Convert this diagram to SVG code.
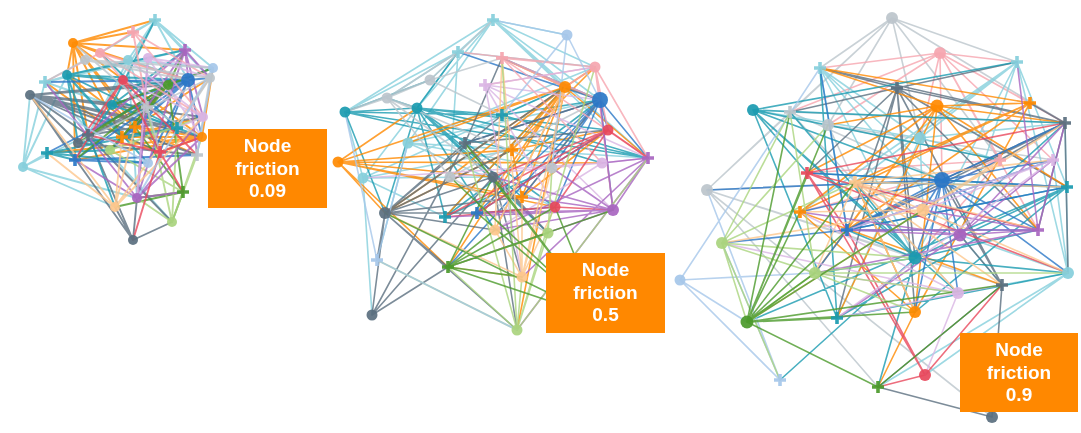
<svg xmlns="http://www.w3.org/2000/svg" xmlns:xlink="http://www.w3.org/1999/xlink" width="1081" height="433" viewBox="0 0 1081 433">
<style>
.T{fill:#1a9bb0;stroke:#1a9bb0}
.LT{fill:#86cfdc;stroke:#86cfdc}
.S{fill:#5b6f7f;stroke:#5b6f7f}
.G{fill:#bcc5cc;stroke:#bcc5cc}
.P{fill:#f6a5af;stroke:#f6a5af}
.R{fill:#e8485c;stroke:#e8485c}
.PU{fill:#a865c0;stroke:#a865c0}
.LP{fill:#dab5e4;stroke:#dab5e4}
.O{fill:#ff8a00;stroke:#ff8a00}
.LO{fill:#fdc78d;stroke:#fdc78d}
.B{fill:#2a77c7;stroke:#2a77c7}
.LB{fill:#a6c7ea;stroke:#a6c7ea}
.GR{fill:#4b9a2b;stroke:#4b9a2b}
.LG{fill:#aad47e;stroke:#aad47e}
circle{stroke-width:0}
path.e{fill:none;stroke-width:1.6;stroke-opacity:.8;stroke-linecap:round}
#g1-edges path.e{stroke-width:1.9}
use{stroke-width:3.6}
.nodes{opacity:.92}
.lbl rect{fill:#ff8800}
.lbl text{fill:#fff;font-family:"Liberation Sans",Arial,sans-serif;font-weight:bold;font-size:19px;text-anchor:middle}
</style>
<defs>
<path id="pl" d="M-6 0H6M0-6V6"/>
</defs>
<rect width="1081" height="433" fill="#fff"/>

<!-- ===== Graph 1 (friction 0.09) ===== -->
<g id="g1-edges">
<path class="e O" d="M73 43L155 20M73 43L133 32M73 43L185 50M73 43L67 75M73 43L135 127M73 43L122 137M73 43L202 137M73 43L160 152M73 43L100 53M73 43L88 135M73 43L75 160M73 43L188 80M202 137L47 153M202 137L75 160M202 137L160 152M202 137L213 68M202 137L122 137M135 127L197 155M135 127L210 78M135 127L202 137M122 137L160 152M122 137L168 85M135 127L67 75M135 127L112 105M122 137L203 117M122 137L45 82"/>
<path class="e LT" d="M155 20L133 32M155 20L185 50M155 20L210 78M155 20L188 80M155 20L213 68M155 20L88 135M155 20L100 53M23 167L30 95M23 167L45 82M23 167L47 153M23 167L115 207M23 167L137 198M23 167L88 135M23 167L67 75M45 82L128 60M45 82L185 50M45 82L177 128M45 82L172 222M128 60L188 80M128 60L155 20M128 60L213 68M128 60L88 135M128 60L137 198M128 60L147 107"/>
<path class="e S" d="M30 95L135 127M30 95L177 128M30 95L202 137M30 95L160 152M30 95L88 135M30 95L78 143M30 95L110 150M30 95L197 155M30 95L75 160M30 95L203 117M30 95L147 107M30 95L188 80M30 95L168 85M30 95L133 240M133 240L115 207M133 240L137 198M133 240L172 222M88 135L203 117M88 135L133 240M88 135L172 222M78 143L188 80M78 143L197 155M88 135L168 85M78 143L147 107"/>
<path class="e T" d="M67 75L185 50M67 75L188 80M67 75L168 85M67 75L78 143M67 75L88 135M67 75L148 163M67 75L115 207M67 75L122 137M67 75L177 128M177 128L47 153M177 128L78 143M47 153L75 160M47 153L148 163M47 153L110 150M112 105L177 128M112 105L213 68M112 105L185 50M112 105L155 20M112 105L202 137M112 105L75 160M177 128L100 53"/>
<path class="e B" d="M188 80L168 85M188 80L112 105M188 80L45 82M188 80L75 160M188 80L110 150M188 80L148 163M188 80L202 137M188 80L160 152M188 80L210 78M188 80L47 153M75 160L148 163M75 160L197 155M188 80L122 137"/>
<path class="e GR" d="M168 85L112 105M168 85L78 143M168 85L75 160M168 85L110 150M168 85L122 137M168 85L135 127M168 85L213 68M168 85L185 50M183 192L135 127M183 192L168 85M183 192L172 222M183 192L137 198M183 192L115 207M168 85L88 135M168 85L147 107"/>
<path class="e LG" d="M172 222L137 198M172 222L197 155M172 222L202 137M172 222L177 128M110 150L203 117M110 150L183 192M172 222L147 107"/>
<path class="e PU" d="M137 198L185 50M137 198L203 117M137 198L148 58M137 198L147 107M137 198L45 82M137 198L75 160M137 198L183 192M137 198L202 137M185 50L210 78M185 50L203 117M185 50L197 155M185 50L147 107M185 50L88 135"/>
<path class="e LO" d="M115 207L135 127M115 207L47 153M115 207L203 117M115 207L210 78M115 207L30 95M115 207L122 137"/>
<path class="e P" d="M100 53L45 82M100 53L133 32M100 53L203 117M100 53L188 80M100 53L123 80M133 32L210 78M133 32L203 117M133 32L147 107"/>
<path class="e LP" d="M203 117L123 80M203 117L128 60M203 117L177 128M148 58L210 78M148 58L202 137M148 58L213 68M148 58L137 198"/>
<path class="e R" d="M123 80L78 143M123 80L75 160M123 80L160 152M123 80L197 155M160 152L183 192M160 152L202 137M160 152L88 135M160 152L133 240"/>
<path class="e G" d="M85 60L188 80M85 60L213 68M85 60L210 78M85 60L45 82M210 78L177 128M210 78L197 155M210 78L78 143M147 107L160 152M147 107L73 43M147 107L202 137"/>
<path class="e LB" d="M213 68L197 155M213 68L137 198M148 163L30 95"/>
</g>
<g id="g1-nodes" class="nodes">
<use href="#pl" x="155" y="20" class="LT"/>
<use href="#pl" x="133" y="32" class="P"/>
<circle cx="73" cy="43" r="5" class="O"/>
<use href="#pl" x="185" y="50" class="PU"/>
<circle cx="100" cy="53" r="5" class="P"/>
<circle cx="85" cy="60" r="5" class="G"/>
<circle cx="128" cy="60" r="5" class="LT"/>
<circle cx="148" cy="58" r="5" class="LP"/>
<circle cx="213" cy="68" r="5" class="LB"/>
<circle cx="67" cy="75" r="5" class="T"/>
<use href="#pl" x="45" y="82" class="LT"/>
<circle cx="210" cy="78" r="5" class="G"/>
<circle cx="123" cy="80" r="5" class="R"/>
<circle cx="168" cy="85" r="5" class="GR"/>
<circle cx="188" cy="80" r="7" class="B"/>
<circle cx="30" cy="95" r="5" class="S"/>
<circle cx="112" cy="105" r="5" class="T"/>
<use href="#pl" x="147" y="107" class="G"/>
<circle cx="203" cy="117" r="5" class="LP"/>
<use href="#pl" x="135" y="127" class="O"/>
<use href="#pl" x="177" y="128" class="T"/>
<circle cx="202" cy="137" r="5" class="O"/>
<use href="#pl" x="122" y="137" class="O"/>
<use href="#pl" x="88" y="135" class="S"/>
<circle cx="78" cy="143" r="5" class="S"/>
<use href="#pl" x="160" y="152" class="R"/>
<use href="#pl" x="47" y="153" class="T"/>
<use href="#pl" x="75" y="160" class="B"/>
<circle cx="110" cy="150" r="5" class="LG"/>
<circle cx="148" cy="163" r="5" class="LB"/>
<use href="#pl" x="197" y="155" class="G"/>
<circle cx="23" cy="167" r="5" class="LT"/>
<use href="#pl" x="183" y="192" class="GR"/>
<circle cx="137" cy="198" r="5" class="PU"/>
<circle cx="115" cy="207" r="5" class="LO"/>
<circle cx="172" cy="222" r="5" class="LG"/>
<circle cx="133" cy="240" r="5" class="S"/>
</g>

<!-- ===== Graph 2 (friction 0.5) ===== -->
<g id="g2-edges">
<path class="e LT" d="M493 20L458 52M493 20L417 108M493 20L408 143M493 20L600 100M493 20L567 35M493 20L595 67M493 20L565 87M493 20L608 130M493 20L648 158M493 20L430 80M493 20L345 112M458 52L345 112M458 52L387 98M458 52L417 108M458 52L595 67M458 52L450 177M408 143L377 260M408 143L600 100M408 143L648 158M408 143L555 207M408 143L552 168M408 143L595 67M363 178L565 87M363 178L512 150M363 178L345 112M363 178L417 108M363 178L445 217M363 178L372 315M363 178L493 177"/>
<path class="e T" d="M417 108L345 112M417 108L502 115M417 108L555 207M417 108L648 158M417 108L495 230M417 108L445 217M417 108L522 197M417 108L385 213M417 108L602 163M417 108L608 130M417 108L493 177M417 108L548 233M417 108L458 52M417 108L387 98M345 112L430 80M345 112L502 115M345 112L512 150M345 112L385 213M345 112L648 158M502 115L648 158M502 115L600 100M502 115L565 87M445 217L600 100M445 217L565 87M445 217L552 168"/>
<path class="e O" d="M338 162L565 87M338 162L417 108M338 162L512 150M338 162L385 213M338 162L448 267M338 162L493 177M338 162L522 197M338 162L555 207M338 162L602 163M565 87L385 213M565 87L450 177M565 87L445 217M565 87L477 213M565 87L595 67M565 87L600 100M565 87L648 158M565 87L512 150M565 87L495 230M565 87L522 197M565 87L517 330M565 87L448 267M565 87L408 143M565 87L502 58M512 150L385 213M512 150L522 197M512 150L595 67M512 150L608 130M522 197L600 100M522 197L608 130"/>
<path class="e B" d="M600 100L648 158M600 100L608 130M600 100L555 207M600 100L477 213M600 100L613 210M600 100L502 58M600 100L458 52M600 100L465 143M600 100L448 267M600 100L522 197M600 100L552 168M477 213L608 130M477 213L600 100M477 213L555 207"/>
<path class="e S" d="M385 213L465 143M385 213L502 115M385 213L493 177M385 213L565 87M385 213L512 150M385 213L517 330M385 213L372 315M385 213L377 260M385 213L477 213M385 213L495 230M385 213L448 267M385 213L522 197M372 315L465 143M372 315L448 267M372 315L493 177M372 315L385 213M465 143L600 100M465 143L608 130M465 143L548 233M465 143L502 58M493 177L548 233M493 177L522 277M493 177L517 330"/>
<path class="e P" d="M595 67L458 52M595 67L502 58M595 67L485 85M595 67L648 158M595 67L608 130M595 67L565 87M595 67L613 210M595 67L600 100M502 58L565 87M502 58L600 100M502 58L602 163M502 58L648 158"/>
<path class="e G" d="M430 80L493 20M430 80L502 58M430 80L345 112M430 80L387 98M430 80L502 115M387 98L345 112M387 98L417 108M387 98L458 52M387 98L552 168M387 98L450 177M387 98L493 177M450 177L600 100M450 177L548 233"/>
<path class="e LP" d="M485 85L600 100M485 85L595 67M485 85L648 158M485 85L613 210M485 85L522 277M485 85L555 207M602 163L363 178M602 163L450 177M602 163L495 230M602 163L648 158"/>
<path class="e R" d="M608 130L445 217M608 130L477 213M608 130L555 207M608 130L493 177M608 130L648 158M555 207L477 213M555 207L445 217M555 207L613 210"/>
<path class="e PU" d="M648 158L613 210M648 158L517 330M648 158L522 277M648 158L495 230M648 158L602 163M613 210L448 267M613 210L445 217M613 210L477 213M613 210L552 168M613 210L493 177M613 210L522 197M613 210L495 230M613 210L600 100"/>
<path class="e LO" d="M495 230L565 87M495 230L502 58M495 230L522 277M522 277L565 87M522 277L522 197M522 277L385 213M522 277L448 267M522 277L555 207M522 277L552 168M522 277L502 58"/>
<path class="e LG" d="M548 233L517 330M548 233L448 267M548 233L552 168M517 330L377 260M517 330L448 267M517 330L522 277M517 330L502 58M517 330L595 67M517 330L648 158M517 330L465 143"/>
<path class="e GR" d="M448 267L548 233M448 267L522 277M448 267L495 230M448 267L493 177M448 267L555 207M448 267L613 210M448 267L600 318M600 318L465 143M600 318L493 177M600 318L477 213M600 318L555 207M600 318L450 177M600 318L385 213"/>
<path class="e LB" d="M377 260L408 143M377 260L517 330M377 260L345 112M567 35L493 20M567 35L600 100M567 35L552 168M567 35L502 115"/>
</g>
<g id="g2-nodes" class="nodes">
<use href="#pl" x="493" y="20" class="LT"/>
<circle cx="567" cy="35" r="5.5" class="LB"/>
<use href="#pl" x="458" y="52" class="LT"/>
<use href="#pl" x="502" y="58" class="P"/>
<circle cx="595" cy="67" r="5.5" class="P"/>
<circle cx="430" cy="80" r="5.5" class="G"/>
<use href="#pl" x="485" y="85" class="LP"/>
<circle cx="565" cy="87" r="6" class="O"/>
<circle cx="387" cy="98" r="5.5" class="G"/>
<circle cx="600" cy="100" r="8" class="B"/>
<circle cx="345" cy="112" r="5.5" class="T"/>
<circle cx="417" cy="108" r="5.5" class="T"/>
<use href="#pl" x="502" y="115" class="T"/>
<circle cx="608" cy="130" r="5.5" class="R"/>
<use href="#pl" x="465" y="143" class="S"/>
<circle cx="408" cy="143" r="5.5" class="LT"/>
<use href="#pl" x="512" y="150" class="O"/>
<use href="#pl" x="648" y="158" class="PU"/>
<circle cx="338" cy="162" r="5.5" class="O"/>
<circle cx="602" cy="163" r="5.5" class="LP"/>
<circle cx="363" cy="178" r="5.5" class="LT"/>
<circle cx="450" cy="177" r="5.5" class="G"/>
<circle cx="493" cy="177" r="5.5" class="S"/>
<circle cx="552" cy="168" r="5.5" class="G"/>
<use href="#pl" x="522" y="197" class="O"/>
<circle cx="555" cy="207" r="5.5" class="R"/>
<circle cx="613" cy="210" r="6" class="PU"/>
<circle cx="385" cy="213" r="6" class="S"/>
<use href="#pl" x="445" y="217" class="T"/>
<use href="#pl" x="477" y="213" class="B"/>
<circle cx="495" cy="230" r="5.5" class="LO"/>
<circle cx="548" cy="233" r="5.5" class="LG"/>
<use href="#pl" x="377" y="260" class="LB"/>
<use href="#pl" x="448" y="267" class="GR"/>
<circle cx="522" cy="277" r="5.5" class="LO"/>
<circle cx="372" cy="315" r="5.5" class="S"/>
<circle cx="517" cy="330" r="5.5" class="LG"/>
</g>

<!-- ===== Graph 3 (friction 0.9) ===== -->
<g id="g3-edges">
<path class="e G" d="M892 18L820 68M892 18L790 112M892 18L828 125M892 18L707 190M892 18L1017 62M892 18L1065 123M892 18L920 138M892 18L1000 160M790 112L707 190M790 112L942 180M790 112L1065 123M790 112L958 293M828 125L1000 160M828 125L915 312M828 125L1053 160M707 190L915 258M707 190L878 387M707 190L942 180M707 190L1002 285M707 190L992 417"/>
<path class="e P" d="M940 53L820 68M940 53L790 112M940 53L1000 160M940 53L1065 123M940 53L1053 160M940 53L1030 103M940 53L1038 230M940 53L942 180M940 53L1017 62M940 53L920 138M1000 160L807 173M1000 160L800 212M1000 160L847 230M1000 160L915 258M940 53L828 125"/>
<path class="e LT" d="M1017 62L1068 273M1017 62L1067 187M1017 62L960 235M1017 62L915 258M1017 62L800 212M1017 62L920 138M1017 62L855 182M820 68L847 230M820 68L942 180M820 68L915 258M820 68L1002 285M820 68L920 138M920 138L753 110M920 138L1000 160M920 138L1065 123M920 138L923 210M920 138L837 318M1068 273L1053 160M1068 273L960 235M1068 273L925 375M1068 273L878 387M1068 273L958 293M1068 273L1065 123"/>
<path class="e S" d="M897 88L1017 62M897 88L1065 123M897 88L915 258M897 88L915 312M897 88L1067 187M897 88L847 230M897 88L1002 285M897 88L807 173M897 88L820 68M897 88L837 318M897 88L790 112M897 88L1038 230M1065 123L1030 103M1065 123L1000 160M1065 123L1038 230M1065 123L942 180M1065 123L847 230M1065 123L1068 273M1065 123L820 68M1002 285L992 417M1002 285L960 235M1002 285L878 387M1002 285L942 180M992 417L878 387"/>
<path class="e O" d="M937 106L1030 103M937 106L807 173M937 106L800 212M937 106L820 68M937 106L1065 123M937 106L847 230M937 106L915 312M937 106L837 318M937 106L1067 187M937 106L828 125M937 106L1038 230M937 106L815 273M1030 103L800 212M1030 103L847 230M1030 103L855 182M1030 103L820 68M1030 103L915 312M800 212L915 312M800 212L1002 285M915 312L878 387M915 312L855 182"/>
<path class="e T" d="M753 110L1017 62M753 110L915 258M753 110L958 293M753 110L942 180M753 110L837 318M753 110L1065 123M753 110L1000 160M753 110L807 173M1067 187L847 230M1067 187L807 173M1067 187L837 318M1067 187L855 182M1067 187L915 312M1067 187L747 322M915 258L878 387M915 258L780 380M915 258L855 182M915 258L1038 230M915 258L1068 273M915 258L847 230M915 258L815 273M915 258L1067 187M915 258L1065 123M915 258L790 112M837 318L753 110M837 318L1068 273M837 318L820 68"/>
<path class="e B" d="M942 180L807 173M942 180L1067 187M942 180L1038 230M942 180L960 235M942 180L915 258M942 180L847 230M942 180L1065 123M942 180L1053 160M942 180L923 210M942 180L915 312M942 180L800 212M942 180L958 293M942 180L707 190M942 180L1068 273M847 230L1053 160M847 230L1000 160M847 230L1067 187M847 230L820 68M847 230L722 243M847 230L815 273M847 230L1038 230"/>
<path class="e LB" d="M680 280L820 68M680 280L780 380M680 280L815 273M680 280L747 322M780 380L707 190M780 380L722 243"/>
<path class="e R" d="M807 173L925 375M807 173L847 230M807 173L1038 230M807 173L1068 273M807 173L1065 123M925 375L878 387M925 375L1002 285M925 375L847 230"/>
<path class="e LO" d="M855 182L1067 187M855 182L923 210M855 182L1038 230M855 182L1002 285M855 182L958 293M855 182L815 273M855 182L960 235M855 182L915 312M855 182L1053 160M923 210L722 243M923 210L800 212M923 210L1065 123M923 210L1000 160M923 210L747 322M923 210L1068 273"/>
<path class="e PU" d="M960 235L1038 230M960 235L847 230M960 235L800 212M960 235L1053 160M960 235L1065 123M960 235L837 318M1038 230L815 273M1038 230L923 210M1038 230L1017 62M1038 230L1065 123M1038 230L847 230"/>
<path class="e LP" d="M1053 160L847 230M1053 160L923 210M1053 160L837 318M958 293L837 318M958 293L1002 285M958 293L800 212M958 293L925 375M958 293L722 243M958 293L815 273"/>
<path class="e LG" d="M722 243L790 112M722 243L828 125M722 243L815 273M722 243L915 258M722 243L747 322M722 243L780 380M722 243L855 182M815 273L747 322M815 273L915 258M815 273L790 112M815 273L958 293M815 273L1068 273M815 273L915 312"/>
<path class="e GR" d="M747 322L790 112M747 322L828 125M747 322L855 182M747 322L800 212M747 322L847 230M747 322L837 318M747 322L1002 285M747 322L915 312M747 322L878 387M747 322L815 273M747 322L923 210M747 322L807 173M878 387L1002 285"/>
</g>
<g id="g3-nodes" class="nodes">
<circle cx="892" cy="18" r="6" class="G"/>
<circle cx="940" cy="53" r="6" class="P"/>
<use href="#pl" x="1017" y="62" class="LT"/>
<use href="#pl" x="820" y="68" class="LT"/>
<use href="#pl" x="897" y="88" class="S"/>
<circle cx="937" cy="106" r="6.5" class="O"/>
<use href="#pl" x="1030" y="103" class="O"/>
<circle cx="753" cy="110" r="6" class="T"/>
<use href="#pl" x="790" y="112" class="G"/>
<use href="#pl" x="1065" y="123" class="S"/>
<circle cx="828" cy="125" r="6" class="G"/>
<circle cx="920" cy="138" r="6" class="LT"/>
<use href="#pl" x="1000" y="160" class="P"/>
<use href="#pl" x="1053" y="160" class="LP"/>
<use href="#pl" x="807" y="173" class="R"/>
<use href="#pl" x="855" y="182" class="LO"/>
<circle cx="942" cy="180" r="8" class="B"/>
<use href="#pl" x="1067" y="187" class="T"/>
<circle cx="707" cy="190" r="6" class="G"/>
<use href="#pl" x="800" y="212" class="O"/>
<circle cx="923" cy="210" r="6.5" class="LO"/>
<use href="#pl" x="847" y="230" class="B"/>
<circle cx="960" cy="235" r="6.5" class="PU"/>
<use href="#pl" x="1038" y="230" class="PU"/>
<circle cx="722" cy="243" r="6" class="LG"/>
<circle cx="915" cy="258" r="6.5" class="T"/>
<circle cx="1068" cy="273" r="6" class="LT"/>
<circle cx="680" cy="280" r="5.5" class="LB"/>
<circle cx="815" cy="273" r="6" class="LG"/>
<circle cx="958" cy="293" r="6" class="LP"/>
<use href="#pl" x="1002" y="285" class="S"/>
<circle cx="915" cy="312" r="6" class="O"/>
<use href="#pl" x="837" y="318" class="T"/>
<circle cx="747" cy="322" r="6.5" class="GR"/>
<circle cx="925" cy="375" r="6" class="R"/>
<use href="#pl" x="878" y="387" class="GR"/>
<use href="#pl" x="780" y="380" class="LB"/>
<circle cx="992" cy="417" r="6" class="S"/>
</g>

<!-- ===== Labels ===== -->
<g id="label-1" class="lbl">
<rect x="208" y="129" width="119" height="79"/>
<text x="267.5" y="152">Node</text>
<text x="267.5" y="175">friction</text>
<text x="267.5" y="197">0.09</text>
</g>
<g id="label-2" class="lbl">
<rect x="546" y="253" width="119" height="80"/>
<text x="605.5" y="276">Node</text>
<text x="605.5" y="299">friction</text>
<text x="605.5" y="321">0.5</text>
</g>
<g id="label-3" class="lbl">
<rect x="960" y="333" width="118" height="79"/>
<text x="1019" y="356">Node</text>
<text x="1019" y="379">friction</text>
<text x="1019" y="401">0.9</text>
</g>
</svg>
